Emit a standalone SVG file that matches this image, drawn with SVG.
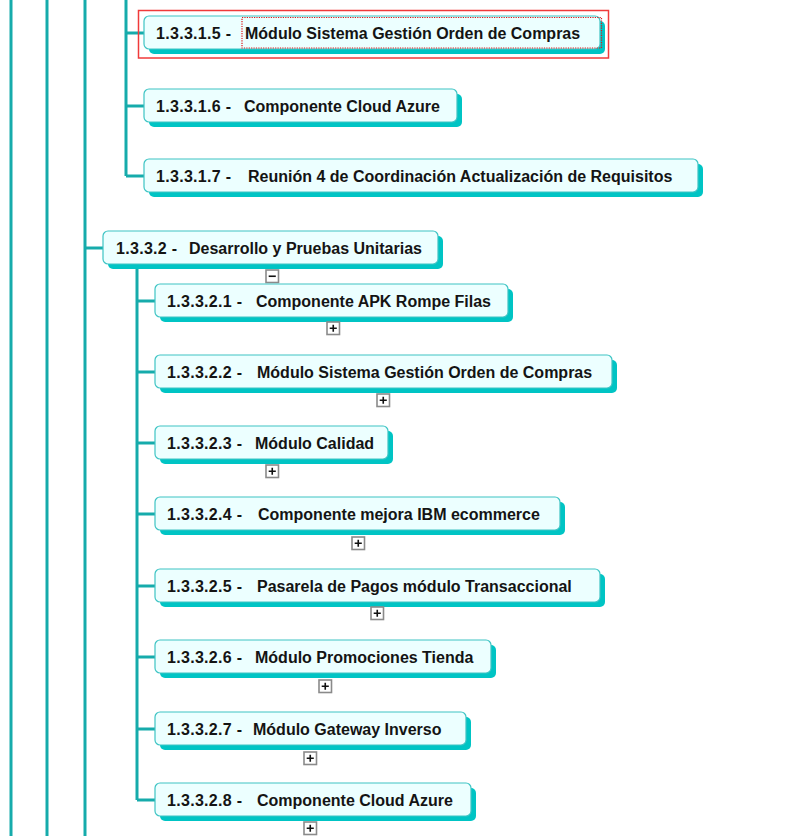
<svg xmlns="http://www.w3.org/2000/svg" width="795" height="836" viewBox="0 0 795 836">
  <style>
    .wire { stroke: #16abab; stroke-width: 3; fill: none; }
    .shadow { fill: #00c4c4; }
    .box { fill: #ecffff; stroke: #3ec4c4; stroke-width: 1.2; }
    .lbl { font-family: "Liberation Sans", Arial, sans-serif; font-weight: bold; font-size: 16px; fill: #141414; }
    .num { letter-spacing: 0.3px; }
    .tg { fill: #ffffff; stroke: #8a8a8a; stroke-width: 1.6; }
    .tgs { stroke: #111; stroke-width: 1.6; }
  </style>
  <defs>
    <g id="plus">
      <rect class="tg" x="0" y="0" width="12.5" height="12.5"/>
      <path class="tgs" d="M2.7 6.25H9.8M6.25 2.7V9.8"/>
    </g>
    <g id="minus">
      <rect class="tg" x="0" y="0" width="12.5" height="12.5"/>
      <path class="tgs" d="M2.7 6.25H9.8"/>
    </g>
  </defs>
  <rect width="795" height="836" fill="#ffffff"/>

  <!-- tree wiring -->
  <g id="connectors">
    <path class="wire" d="M11 0V836M47 0V836M85 0V836"/>
    <path class="wire" d="M126 0V176M126 33H144M126 106H144M126 176H144"/>
    <path class="wire" d="M85 248H103"/>
    <path class="wire" d="M137 264V800M137 301H155M137 372H155M137 443H155M137 514H155M137 586H155M137 657H155M137 729H155M137 800H155"/>
  </g>

  <!-- 1.3.3.1.x -->
  <g id="n13315">
    <rect class="shadow" x="149" y="21" width="456" height="33" rx="5"/>
    <rect class="box" x="144" y="16" width="456" height="33" rx="5"/>
    <text class="lbl num" x="156" y="39">1.3.3.1.5 -</text>
    <text class="lbl" x="245" y="39">Módulo Sistema Gestión Orden de Compras</text>
    <rect x="242" y="17.5" width="359.5" height="30.5" fill="none" stroke="#e01818" stroke-width="1.2" stroke-dasharray="1.2 1.2"/>
    <rect x="138.5" y="10.5" width="470" height="47.5" fill="none" stroke="#f03a3a" stroke-width="1.5"/>
  </g>
  <g id="n13316">
    <rect class="shadow" x="149" y="94" width="313" height="33" rx="5"/>
    <rect class="box" x="144" y="89" width="313" height="33" rx="5"/>
    <text class="lbl num" x="156" y="112">1.3.3.1.6 -</text>
    <text class="lbl" x="244" y="112">Componente Cloud Azure</text>
  </g>
  <g id="n13317">
    <rect class="shadow" x="149" y="164" width="554" height="33" rx="5"/>
    <rect class="box" x="144" y="159" width="554" height="33" rx="5"/>
    <text class="lbl num" x="156" y="182">1.3.3.1.7 -</text>
    <text class="lbl" x="248" y="182">Reunión 4 de Coordinación Actualización de Requisitos</text>
  </g>

  <!-- 1.3.3.2 -->
  <g id="n1332">
    <rect class="shadow" x="108" y="236" width="335" height="33" rx="5"/>
    <rect class="box" x="103" y="231" width="335" height="33" rx="5"/>
    <text class="lbl num" x="116" y="254">1.3.3.2 -</text>
    <text class="lbl" x="189" y="254">Desarrollo y Pruebas Unitarias</text>
    <use href="#minus" x="266" y="270"/>
  </g>

  <!-- 1.3.3.2.x -->
  <g id="n13321">
    <rect class="shadow" x="160" y="289" width="353" height="33" rx="5"/>
    <rect class="box" x="155" y="284" width="353" height="33" rx="5"/>
    <text class="lbl num" x="167" y="307">1.3.3.2.1 -</text>
    <text class="lbl" x="256" y="307">Componente APK Rompe Filas</text>
    <use href="#plus" x="327" y="322"/>
  </g>
  <g id="n13322">
    <rect class="shadow" x="160" y="360" width="457" height="33" rx="5"/>
    <rect class="box" x="155" y="355" width="457" height="33" rx="5"/>
    <text class="lbl num" x="167" y="378">1.3.3.2.2 -</text>
    <text class="lbl" x="257" y="378">Módulo Sistema Gestión Orden de Compras</text>
    <use href="#plus" x="377" y="394"/>
  </g>
  <g id="n13323">
    <rect class="shadow" x="160" y="431" width="233" height="33" rx="5"/>
    <rect class="box" x="155" y="426" width="233" height="33" rx="5"/>
    <text class="lbl num" x="167" y="449">1.3.3.2.3 -</text>
    <text class="lbl" x="255" y="449">Módulo Calidad</text>
    <use href="#plus" x="266" y="465"/>
  </g>
  <g id="n13324">
    <rect class="shadow" x="160" y="502" width="405" height="33" rx="5"/>
    <rect class="box" x="155" y="497" width="405" height="33" rx="5"/>
    <text class="lbl num" x="167" y="520">1.3.3.2.4 -</text>
    <text class="lbl" x="258" y="520">Componente mejora IBM ecommerce</text>
    <use href="#plus" x="352" y="537"/>
  </g>
  <g id="n13325">
    <rect class="shadow" x="160" y="574" width="445" height="33" rx="5"/>
    <rect class="box" x="155" y="569" width="445" height="33" rx="5"/>
    <text class="lbl num" x="167" y="592">1.3.3.2.5 -</text>
    <text class="lbl" x="257" y="592">Pasarela de Pagos módulo Transaccional</text>
    <use href="#plus" x="371" y="607"/>
  </g>
  <g id="n13326">
    <rect class="shadow" x="160" y="645" width="336" height="33" rx="5"/>
    <rect class="box" x="155" y="640" width="336" height="33" rx="5"/>
    <text class="lbl num" x="167" y="663">1.3.3.2.6 -</text>
    <text class="lbl" x="255" y="663">Módulo Promociones Tienda</text>
    <use href="#plus" x="319" y="680"/>
  </g>
  <g id="n13327">
    <rect class="shadow" x="160" y="717" width="311" height="33" rx="5"/>
    <rect class="box" x="155" y="712" width="311" height="33" rx="5"/>
    <text class="lbl num" x="167" y="735">1.3.3.2.7 -</text>
    <text class="lbl" x="253" y="735">Módulo Gateway Inverso</text>
    <use href="#plus" x="304" y="752"/>
  </g>
  <g id="n13328">
    <rect class="shadow" x="160" y="788" width="316" height="33" rx="5"/>
    <rect class="box" x="155" y="783" width="316" height="33" rx="5"/>
    <text class="lbl num" x="167" y="806">1.3.3.2.8 -</text>
    <text class="lbl" x="257" y="806">Componente Cloud Azure</text>
    <use href="#plus" x="304" y="822"/>
  </g>
</svg>
